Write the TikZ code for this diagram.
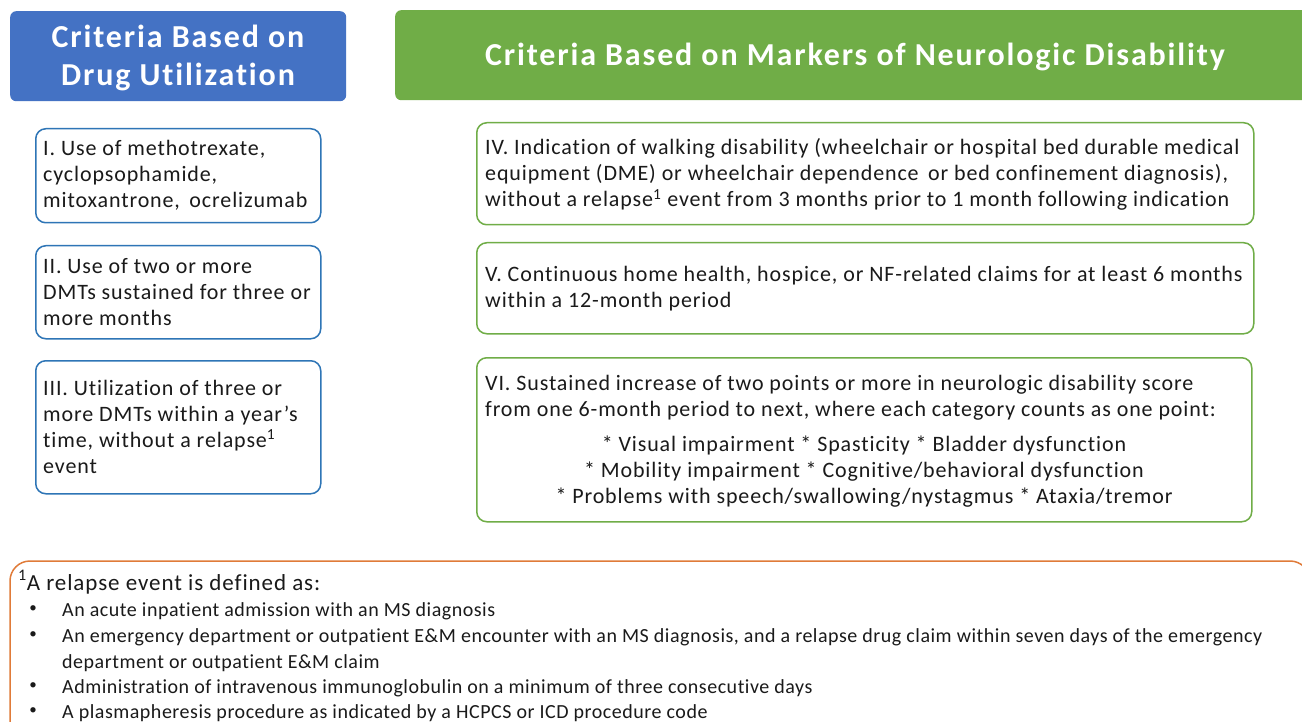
\documentclass[tikz,border=0pt]{standalone}
\usepackage{fontspec}
\setmainfont{Carlito}[Ligatures={NoCommon}]
\definecolor{hblue}{HTML}{4472C4}
\definecolor{hgreen}{HTML}{70AD47}
\definecolor{bblue}{HTML}{2E75B6}
\definecolor{bgreen}{HTML}{70AD47}
\definecolor{orng}{HTML}{E07B39}
\definecolor{txtc}{HTML}{1A1A1A}
\newcommand{\bodyfont}{\fontsize{22}{26}\selectfont\addfontfeatures{LetterSpace=4}}
\newcommand{\footfont}{\fontsize{20}{25.5}\selectfont\addfontfeatures{LetterSpace=2.6}}
\newcommand{\headfont}{\bfseries\fontsize{32}{38}\selectfont\addfontfeatures{LetterSpace=5.8}}
\tikzset{
  hdr/.style={rounded corners=6pt, draw=none, inner sep=0pt, anchor=north west},
  hdrtxt/.style={text=white, font=\headfont, align=center, inner sep=0pt},
  bluebox/.style={draw=bblue, line width=1.5pt, rounded corners=10pt, inner sep=0pt, anchor=north west},
  greenbox/.style={draw=bgreen, line width=1.5pt, rounded corners=10pt, inner sep=0pt, anchor=north west},
  txt/.style={text=txtc, font=\bodyfont, align=left, inner sep=0pt, anchor=base west},
  ctxt/.style={text=txtc, font=\bodyfont, inner sep=0pt, anchor=base},
  ftxt/.style={text=txtc, font=\footfont, align=left, inner sep=0pt, anchor=base west},
  bul/.style={text=txtc, font=\fontsize{15}{15}\selectfont, inner sep=0pt, anchor=center},
}
\begin{document}
\begin{tikzpicture}[x=1pt,y=-1pt]
\clip (0,0) rectangle (1302,722);
\fill[white] (0,0) rectangle (1302,722);
% headers
\node[hdr, fill=hblue, minimum width=336, minimum height=90] (h1) at (10,11) {};
\node[hdrtxt] (h1t) at (178,57.5) {Criteria Based on\\Drug Utilization};
\node[hdr, fill=hgreen, minimum width=915, minimum height=90] (h2) at (395,10) {};
\node[hdrtxt, anchor=base] (h2t) at (855,66) {Criteria Based on Markers of Neurologic Disability};
% left boxes (anchor base = last line baseline)
\node[bluebox, minimum width=285, minimum height=94] (b1) at (35,128) {};
\node[txt] (t1) at (43,208) {I. Use of methotrexate,\\cyclopsophamide,\\mitoxantrone,\, ocrelizumab};
\node[bluebox, minimum width=285, minimum height=93] (b2) at (35,245) {};
\node[txt] (t2) at (43,325) {II. Use of two or more\\DMTs sustained for three or\\more months};
\node[bluebox, minimum width=285, minimum height=133] (b3) at (35,360) {};
\node[txt] (t3) at (43,473) {III. Utilization of three or\\more DMTs within a year’s\\time, without a relapse\textsuperscript{1}\\event};
% right boxes
\node[greenbox, minimum width=777, minimum height=102] (g1) at (476,122) {};
\node[txt] (t4) at (485,207) {IV. Indication of walking disability (wheelchair or hospital bed durable medical\\equipment (DME) or wheelchair dependence\, or bed confinement diagnosis),\\without a relapse\textsuperscript{1} event from 3 months prior to 1 month following indication};
\node[greenbox, minimum width=777, minimum height=91] (g2) at (476,242) {};
\node[txt] (t5) at (485,308) {V. Continuous home health, hospice, or NF-related claims for at least 6 months\\within a 12-month period};
\node[greenbox, minimum width=775, minimum height=164] (g3) at (476,357) {};
\node[txt] (t6) at (485,416) {VI. Sustained increase of two points or more in neurologic disability score\\from one 6-month period to next, where each category counts as one point:};
\node[ctxt] (t7) at (864,451) {* Visual impairment * Spasticity * Bladder dysfunction};
\node[ctxt] (t8) at (864,477) {* Mobility impairment * Cognitive/behavioral dysfunction};
\node[ctxt] (t9) at (864,503) {* Problems with speech/swallowing/nystagmus * Ataxia/tremor};
% footnote box
\draw[draw=orng, line width=1.5pt, rounded corners=20pt] (10,561) rectangle (1310,760);
\node[ftxt, font=\fontsize{23}{26}\selectfont\addfontfeatures{LetterSpace=4}] (f0) at (18,590) {\textsuperscript{1}A relapse event is defined as:};
\node[bul] (d1) at (33,609) {•};
\node[ftxt] (f1) at (62,616) {An acute inpatient admission with an MS diagnosis};
\node[bul] (d2) at (33,635) {•};
\node[ftxt] (f2) at (62,642) {An emergency department or outpatient E\&M encounter with an MS diagnosis, and a relapse drug claim within seven days of the emergency};
\node[ftxt] (f2b) at (62,668) {department or outpatient E\&M claim};
\node[bul] (d3) at (33,686) {•};
\node[ftxt] (f3) at (62,693) {Administration of intravenous immunoglobulin on a minimum of three consecutive days};
\node[bul] (d4) at (33,711) {•};
\node[ftxt] (f4) at (62,718) {A plasmapheresis procedure as indicated by a HCPCS or ICD procedure code};
\end{tikzpicture}
\end{document}
